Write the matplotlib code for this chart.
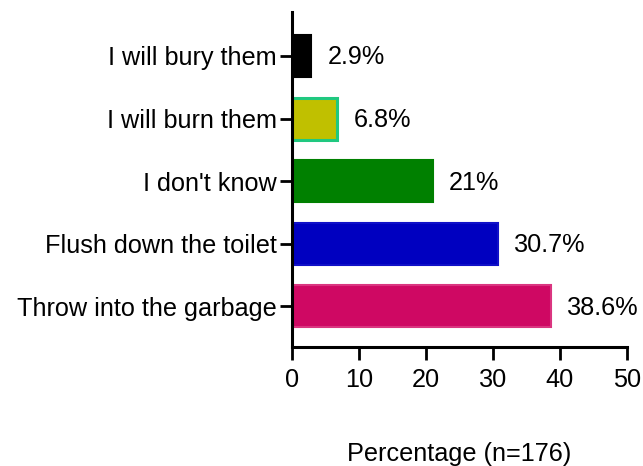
import matplotlib.pyplot as plt

plt.rcParams['font.family'] = ['Liberation Sans', 'DejaVu Sans']

categories = ['Throw into the garbage', 'Flush down the toilet', "I don't know",
              'I will burn them', 'I will bury them']
values = [38.6, 30.7, 21, 6.8, 2.9]
labels = ['38.6%', '30.7%', '21%', '6.8%', '2.9%']
colors = ['#CF0863', '#0000C0', '#008000', '#C0C000', '#000000']
edges = ['#DA3580', '#1010C8', '#008000', '#20C880', '#000000']

fig = plt.figure(figsize=(6.43, 4.66), dpi=100)
ax = fig.add_axes([0.454, 0.255, 0.521, 0.719])

ypos = range(len(categories))
ax.barh(ypos, values, height=0.67, color=colors, edgecolor=edges,
        linewidth=[1.5, 1.5, 1.5, 2.2, 1.5])

for y, v, t in zip(ypos, values, labels):
    ax.annotate(t, (v, y), xytext=(11.5, -1), textcoords='offset points',
                va='center', ha='left', fontsize=18.2)

ax.set_xlim(0, 50)
ax.set_ylim(-0.65, 4.7)
ax.set_xticks([0, 10, 20, 30, 40, 50])
ax.set_yticks(list(ypos))
ax.set_yticklabels(categories)
ax.tick_params(labelsize=18.2, width=2, length=9, color='black')
ax.tick_params(axis='x', pad=6)
ax.tick_params(axis='y', pad=2)
ax.set_xlabel('Percentage (n=176)', fontsize=18.2, labelpad=36)

for s in ['top', 'right']:
    ax.spines[s].set_visible(False)
for s in ['left', 'bottom']:
    ax.spines[s].set_linewidth(2.2)

fig.savefig('out.png', dpi=100)
